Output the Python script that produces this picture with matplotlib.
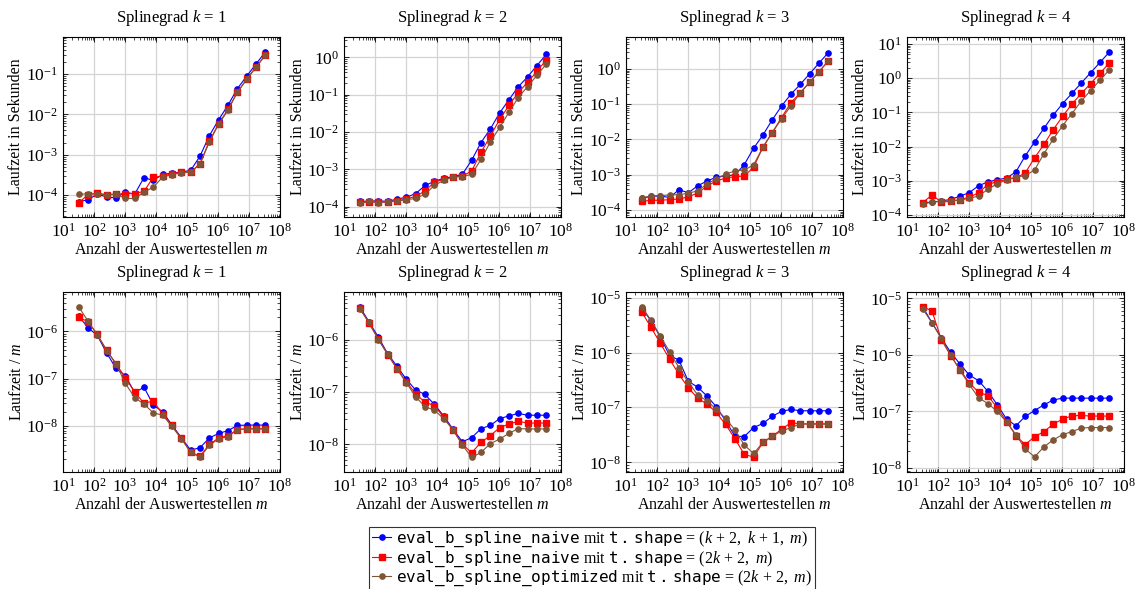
import numpy as np
import matplotlib
matplotlib.use("Agg")
import matplotlib.pyplot as plt
from matplotlib.ticker import LogLocator, NullFormatter

plt.rcParams['font.family'] = ['Liberation Serif', 'DejaVu Serif']
plt.rcParams['mathtext.fontset'] = 'custom'
plt.rcParams['mathtext.rm'] = 'Liberation Serif'
plt.rcParams['mathtext.it'] = 'Liberation Serif:italic'
plt.rcParams['mathtext.tt'] = 'DejaVu Sans Mono'
plt.rcParams['font.size'] = 11.5

# Anzahl der Auswertestellen m (2^5 ... 2^25)
m = np.array([32, 64, 128, 256, 512, 1024, 2048, 4096, 8192, 16384, 32768,
              65536, 131072, 262144, 524288, 1048576, 2097152, 4194304,
              8388608, 16777216, 33554432])

degrees = [1, 2, 3, 4]

# Laufzeit pro Auswertestelle (Sekunden / m)
naive_k1 = [2.1e-6, 1.2e-6, 8.2e-7, 3.5e-7, 1.65e-7, 1.16e-7, 5.1e-8, 6.6e-8, 2.8e-8, 2.0e-8,
            1.05e-8, 5.7e-9, 3.1e-9, 3.5e-9, 5.6e-9, 7.0e-9, 8.0e-9, 1.03e-8, 1.05e-8, 1.05e-8, 1.05e-8]
naive2_k1 = [1.98e-6, 1.6e-6, 8.6e-7, 4.0e-7, 2.07e-7, 1.05e-7, 5.3e-8, 3.0e-8, 3.4e-8, 1.77e-8,
             1.03e-8, 5.6e-9, 2.8e-9, 2.3e-9, 4.1e-9, 5.6e-9, 6.3e-9, 8.4e-9, 8.8e-9, 8.8e-9, 8.8e-9]
opt_k1 = [3.3e-6, 1.65e-6, 8.4e-7, 3.9e-7, 2.05e-7, 8.0e-8, 4.0e-8, 2.9e-8, 1.9e-8, 1.7e-8,
          9.8e-9, 5.4e-9, 2.8e-9, 2.2e-9, 3.9e-9, 5.4e-9, 6.0e-9, 8.4e-9, 8.7e-9, 8.7e-9, 8.7e-9]

naive_k2 = [4.3e-6, 2.2e-6, 1.12e-6, 5.4e-7, 3.1e-7, 1.75e-7, 1.09e-7, 9.0e-8, 5.8e-8, 3.5e-8,
            1.94e-8, 1.12e-8, 1.34e-8, 1.99e-8, 2.3e-8, 3.1e-8, 3.5e-8, 3.9e-8, 3.6e-8, 3.6e-8, 3.6e-8]
naive2_k2 = [4.1e-6, 2.05e-6, 1.03e-6, 5.2e-7, 2.8e-7, 1.58e-7, 9.2e-8, 6.4e-8, 5.5e-8, 3.3e-8,
             1.9e-8, 1.0e-8, 6.9e-9, 1.09e-8, 1.47e-8, 2.08e-8, 2.45e-8, 2.75e-8, 2.55e-8, 2.55e-8, 2.55e-8]
opt_k2 = [3.85e-6, 2.2e-6, 1.0e-6, 5.3e-7, 2.75e-7, 1.5e-7, 8.1e-8, 5.25e-8, 4.5e-8, 3.1e-8,
          1.9e-8, 9.7e-9, 5.6e-9, 7.0e-9, 1.03e-8, 1.26e-8, 1.62e-8, 2.0e-8, 1.97e-8, 1.97e-8, 1.97e-8]

naive_k3 = [6.6e-6, 3.8e-6, 1.95e-6, 8.8e-7, 7.3e-7, 3.0e-7, 2.35e-7, 1.62e-7, 1.03e-7, 5.7e-8,
            3.0e-8, 2.95e-8, 4.3e-8, 5.1e-8, 6.9e-8, 8.5e-8, 9.2e-8, 8.7e-8, 8.7e-8, 8.7e-8, 8.7e-8]
naive2_k3 = [5.55e-6, 2.9e-6, 1.48e-6, 7.6e-7, 4.0e-7, 2.3e-7, 1.47e-7, 1.16e-7, 8.1e-8, 4.9e-8,
             2.7e-8, 1.39e-8, 1.25e-8, 2.3e-8, 3.0e-8, 4.0e-8, 5.3e-8, 5.0e-8, 5.0e-8, 5.0e-8, 5.0e-8]
opt_k3 = [6.85e-6, 3.9e-6, 2.0e-6, 1.04e-6, 5.3e-7, 2.9e-7, 1.7e-7, 1.32e-7, 9.3e-8, 6.3e-8,
          3.9e-8, 2.06e-8, 1.45e-8, 2.3e-8, 3.0e-8, 3.7e-8, 4.3e-8, 5.0e-8, 5.0e-8, 5.0e-8, 5.0e-8]

naive_k4 = [7.1e-6, 3.7e-6, 2.0e-6, 1.11e-6, 6.9e-7, 4.4e-7, 3.5e-7, 2.26e-7, 1.31e-7, 7.3e-8,
            5.6e-8, 8.2e-8, 1.04e-7, 1.31e-7, 1.6e-7, 1.72e-7, 1.72e-7, 1.72e-7, 1.72e-7, 1.72e-7, 1.72e-7]
naive2_k4 = [7.1e-6, 6.0e-6, 1.87e-6, 9.7e-7, 5.5e-7, 3.2e-7, 2.19e-7, 1.91e-7, 1.15e-7, 6.65e-8,
             3.7e-8, 2.6e-8, 3.6e-8, 4.4e-8, 6.0e-8, 7.3e-8, 8.4e-8, 8.5e-8, 8.3e-8, 8.3e-8, 8.3e-8]
opt_k4 = [6.5e-6, 3.7e-6, 1.95e-6, 1.01e-6, 5.3e-7, 3.0e-7, 1.74e-7, 1.38e-7, 1.0e-7, 6.5e-8,
          3.9e-8, 2.16e-8, 1.58e-8, 2.37e-8, 3.15e-8, 3.9e-8, 4.4e-8, 5.1e-8, 5.2e-8, 5.2e-8, 5.2e-8]

per_point = {
    1: (naive_k1, naive2_k1, opt_k1),
    2: (naive_k2, naive2_k2, opt_k2),
    3: (naive_k3, naive2_k3, opt_k3),
    4: (naive_k4, naive2_k4, opt_k4),
}

labels = [
    r'$\mathtt{eval\_b\_spline\_naive}$ mit $\mathtt{t\,.\,shape}$ = $(k\,+\,2,\ k\,+\,1,\ m)$',
    r'$\mathtt{eval\_b\_spline\_naive}$ mit $\mathtt{t\,.\,shape}$ = $(2k\,+\,2,\ m)$',
    r'$\mathtt{eval\_b\_spline\_optimized}$ mit $\mathtt{t\,.\,shape}$ = $(2k\,+\,2,\ m)$',
]
colors = ['#0000ff', '#ff0000', '#7f5535']
markers = ['o', 's', 'o']
msizes = [3.8, 3.7, 3.8]

# y-Bereiche (log10) der Achsen
ylim_total = [(-4.545, -0.083), (-4.277, 0.545), (-4.2, 0.908), (-4.06, 1.205)]
ylim_rel = [(-8.97, -5.17), (-8.53, -5.088), (-8.177, -4.896), (-8.07, -4.889)]

fig = plt.figure(figsize=(11.35, 5.89), dpi=100)
lefts = [0.0555, 0.3031, 0.5515, 0.7991]
w, h = 0.1912, 0.3056
handles = []

for col, k in enumerate(degrees):
    for row in range(2):
        bottom = 0.6316 if row == 0 else 0.1986
        ax = fig.add_axes([lefts[col], bottom, w, h])
        for i, series in enumerate(per_point[k]):
            vals = np.array(series)
            y = vals * m if row == 0 else vals
            ln, = ax.plot(m, y, color=colors[i], marker=markers[i], ms=msizes[i],
                          lw=0.8, mec=colors[i], mfc=colors[i], label=labels[i])
            if col == 0 and row == 0:
                handles.append(ln)
        ax.set_xscale('log')
        ax.set_yscale('log')
        ax.set_xlim(10, 1e8)
        lo, hi = ylim_total[col] if row == 0 else ylim_rel[col]
        ax.set_ylim(10 ** lo, 10 ** hi)
        for axis in (ax.xaxis, ax.yaxis):
            axis.set_major_locator(LogLocator(base=10, numticks=100))
            axis.set_minor_locator(LogLocator(base=10, subs=np.arange(2, 10), numticks=100))
            axis.set_minor_formatter(NullFormatter())
        ax.grid(True, which='major', color='#d4d4d4', lw=0.9)
        ax.set_axisbelow(True)
        ax.tick_params(which='both', direction='in', top=True, right=True, labelsize=12.5)
        ax.tick_params(axis='x', which='major', pad=4)
        ax.tick_params(which='major', length=3.5, width=0.6)
        ax.tick_params(which='minor', length=2, width=0.5)
        for sp in ax.spines.values():
            sp.set_linewidth(0.8)
        ax.set_title(f'Splinegrad $k$ = {k}', fontsize=12, pad=11)
        ax.set_xlabel('Anzahl der Auswertestellen $m$', fontsize=11.5, labelpad=1)
        if row == 0:
            ax.set_ylabel('Laufzeit in Sekunden', fontsize=11.5, labelpad=1)
        else:
            ax.set_ylabel('Laufzeit / $m$', fontsize=11.5, labelpad=1)

leg = fig.legend(handles=handles, loc='upper center', bbox_to_anchor=(0.5216, 0.106),
                 fontsize=11.5, frameon=True, fancybox=False, edgecolor='black',
                 handlelength=1.2, handletextpad=0.3, labelspacing=0.0,
                 borderpad=0.2, borderaxespad=0)
leg.get_frame().set_linewidth(0.8)

fig.savefig('out.png', dpi=100)
